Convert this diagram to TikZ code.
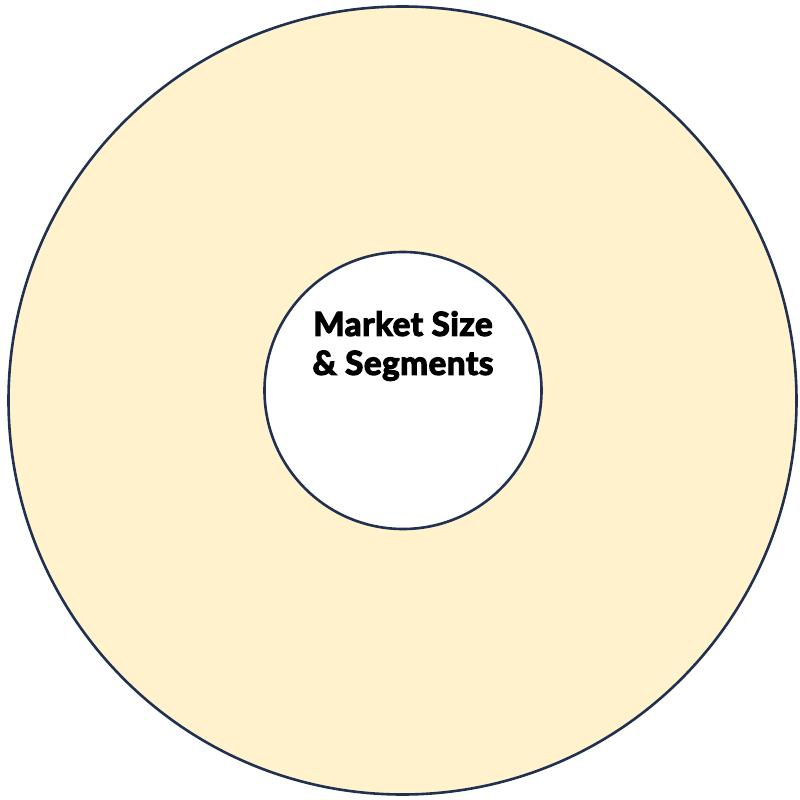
\documentclass[tikz,border=0pt]{standalone}
\usepackage{fontspec}
\newfontfamily\heavyfont[FakeBold=4, LetterSpace=2]{Lato Bold}
\definecolor{ringfill}{HTML}{FFF2CC}
\definecolor{ringline}{HTML}{1F3050}
\begin{document}
\begin{tikzpicture}[x=1pt, y=-1pt]
    \useasboundingbox (0,0) rectangle (800,800);

    % outer ring and inner disk
    \draw [fill=ringfill, draw=ringline, line width=2.6pt]
      (402.5,400.5) coordinate (c) circle (394);
    \draw [fill=white, draw=ringline, line width=2.6pt]
      (403,390.5) coordinate (m) circle (138.5);

    \node (label) at (403,346) [align=center, font=\heavyfont\fontsize{33}{39}\selectfont]
      {Market Size\\\& Segments};
  \end{tikzpicture}
\end{document}
